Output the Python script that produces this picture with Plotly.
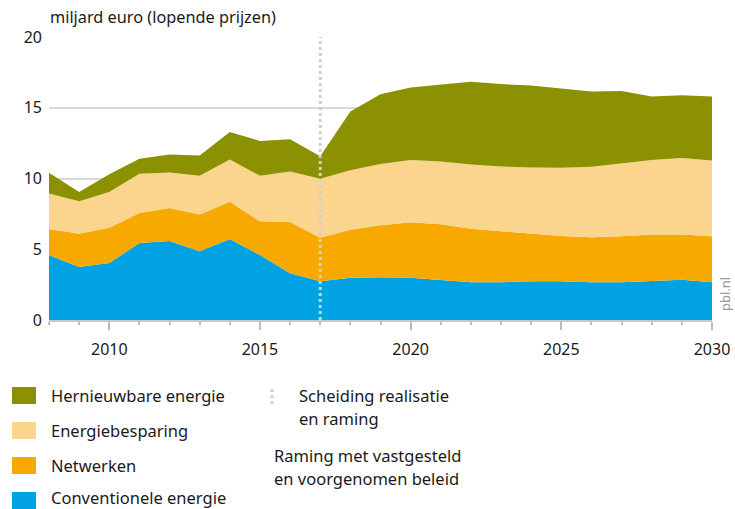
import plotly.graph_objects as go

# Jaren en bedragen per categorie (miljard euro, lopende prijzen)
jaren = list(range(2008, 2031))
conventioneel = [4.59, 3.74, 4.02, 5.44, 5.58, 4.85, 5.72, 4.59, 3.31, 2.74, 2.98, 3.03,
                 2.98, 2.84, 2.67, 2.67, 2.74, 2.74, 2.67, 2.67, 2.74, 2.84, 2.67]
netwerken = [1.84, 2.36, 2.50, 2.13, 2.34, 2.60, 2.63, 2.38, 3.62, 3.08, 3.40, 3.66,
             3.92, 3.92, 3.78, 3.59, 3.36, 3.19, 3.17, 3.24, 3.31, 3.21, 3.24]
besparing = [2.51, 2.29, 2.53, 2.76, 2.51, 2.74, 3.00, 3.22, 3.57, 4.16, 4.21, 4.33,
             4.40, 4.45, 4.54, 4.59, 4.68, 4.83, 4.99, 5.15, 5.25, 5.39, 5.37]
hernieuwbaar = [1.46, 0.66, 1.25, 1.07, 1.27, 1.44, 1.94, 2.46, 2.27, 1.60, 4.14, 4.94,
                5.13, 5.43, 5.84, 5.82, 5.79, 5.60, 5.32, 5.13, 4.49, 4.45, 4.51]

series = [
    ("Conventionele energie", conventioneel, "#00a2e3"),
    ("Netwerken", netwerken, "#f8a900"),
    ("Energiebesparing", besparing, "#fbd48e"),
    ("Hernieuwbare energie", hernieuwbaar, "#8b9100"),
]
scheiding_jaar = 2017
y_ticks = [0, 5, 10, 15, 20]
x_ticks = [2010, 2015, 2020, 2025, 2030]

FONT = "Noto Sans"
TXT = "#1a1a1a"
GRIJS_LIJN = "#d0d0d0"

fig = go.Figure()
for naam, waarden, kleur in series:
    fig.add_trace(go.Scatter(
        x=jaren, y=waarden, name=naam, mode="lines", stackgroup="een",
        line=dict(width=0, color=kleur), fillcolor=kleur, showlegend=False,
    ))

# Scheiding realisatie en raming
fig.add_shape(type="line", xref="x", yref="y", x0=scheiding_jaar, x1=scheiding_jaar,
              y0=0, y1=20, line=dict(color=GRIJS_LIJN, width=3, dash="dot"), layer="above")

W, H = 735, 509
L, R, T, B = 49, 23, 37, 189
pw, ph = W - L - R, H - T - B


def px(x):
    return (x - L) / pw


def py(y):
    return (H - B - y) / ph


# Legenda
legenda = [("Hernieuwbare energie", "#8b9100", 395.5),
           ("Energiebesparing", "#fbd48e", 430.5),
           ("Netwerken", "#f8a900", 465.5),
           ("Conventionele energie", "#00a2e3", 500.5)]
for tekst, kleur, yc in legenda:
    fig.add_shape(type="rect", xref="paper", yref="paper",
                  x0=px(12), x1=px(36), y0=py(yc - 8.5), y1=py(yc + 8.5),
                  fillcolor=kleur, line=dict(width=0))
    fig.add_annotation(xref="paper", yref="paper", x=px(49), y=py(min(yc, 497.5)),
                       text=tekst, showarrow=False, xanchor="left", yanchor="middle",
                       font=dict(family=FONT, size=16.5, color=TXT))

fig.add_shape(type="line", xref="paper", yref="paper", x0=px(272), x1=px(272),
              y0=py(389), y1=py(404), line=dict(color=GRIJS_LIJN, width=3, dash="dot"))
for tekst, x0, y0 in [("Scheiding realisatie", 297, 395), ("en raming", 297, 418),
                      ("Raming met vastgesteld", 272, 456), ("en voorgenomen beleid", 272, 478)]:
    fig.add_annotation(xref="paper", yref="paper", x=px(x0), y=py(y0), text=tekst,
                       showarrow=False, xanchor="left", yanchor="middle",
                       font=dict(family=FONT, size=16.5, color=TXT))

# Eenheid en bron
fig.add_annotation(xref="paper", yref="paper", x=px(48), y=py(17),
                   text="miljard euro (lopende prijzen)", showarrow=False,
                   xanchor="left", yanchor="middle",
                   font=dict(family=FONT, size=16.3, color=TXT))
fig.add_annotation(xref="paper", yref="paper", x=px(725), y=py(313),
                   text="pbl.nl", textangle=-90, showarrow=False,
                   xanchor="center", yanchor="bottom",
                   font=dict(family=FONT, size=13, color="#9a9a9a"))

fig.update_layout(
    width=W, height=H,
    margin=dict(l=L, r=R, t=T, b=B, pad=0, autoexpand=False),
    paper_bgcolor="white", plot_bgcolor="white",
    font=dict(family=FONT, size=16, color=TXT),
    showlegend=False,
)
fig.update_xaxes(
    range=[2008, 2030], tickvals=x_ticks, ticks="outside", ticklen=8,
    tickcolor="#bdbdbd", tickwidth=1.5, showline=True, linecolor="#c8c8c8",
    linewidth=1.5, showgrid=False, zeroline=False, automargin=False,
    ticklabelstandoff=6,
    tickfont=dict(family=FONT, size=16, color=TXT),
    minor=dict(dtick=1, tick0=2008, ticks="outside", ticklen=3,
               tickcolor="#bdbdbd", tickwidth=1.5, showgrid=False),
)
fig.update_yaxes(
    range=[0, 20], tickvals=y_ticks, showgrid=True, gridcolor="#d9d9d9",
    gridwidth=1.5, zeroline=False, showline=False, ticks="", automargin=False,
    ticklabelstandoff=6,
    tickfont=dict(family=FONT, size=16, color=TXT),
)

fig.write_html("out.html")
